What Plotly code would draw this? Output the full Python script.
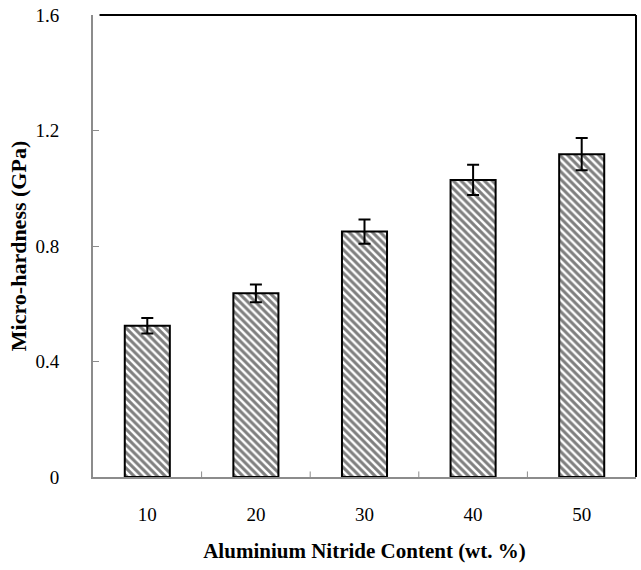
import plotly.graph_objects as go

categories = ["10", "20", "30", "40", "50"]
hardness = [0.524, 0.636, 0.850, 1.029, 1.118]
errors = [0.027, 0.031, 0.042, 0.052, 0.056]
y_ticks = [0, 0.4, 0.8, 1.2, 1.6]
y_tick_labels = ["0", "0.4", "0.8", "1.2", "1.6"]

font_family = "Liberation Serif, Times New Roman, serif"

fig = go.Figure(
    go.Bar(
        x=categories,
        y=hardness,
        error_y=dict(type="data", array=errors, color="black", thickness=2, width=6),
        marker=dict(
            color="white",
            line=dict(color="black", width=2),
            pattern=dict(shape="\\", fgcolor="black", bgcolor="white", size=5.5, solidity=0.55),
        ),
    )
)

fig.update_layout(
    width=641,
    height=570,
    margin=dict(l=93, r=5, t=15, b=93, autoexpand=False),
    paper_bgcolor="white",
    plot_bgcolor="white",
    bargap=0.585,
    showlegend=False,
    font=dict(family=font_family, size=20, color="black"),
    xaxis=dict(
        showline=True,
        linecolor="#8c8c8c",
        linewidth=2,
        ticks="",
        showgrid=False,
        ticklabelstandoff=19,
        tickfont=dict(size=19),
        title=dict(text="<b>Aluminium Nitride Content (wt. %)</b>", standoff=20,
                   font=dict(size=21)),
    ),
    yaxis=dict(
        range=[0, 1.6],
        tickvals=y_ticks,
        ticktext=y_tick_labels,
        showline=True,
        linecolor="#8c8c8c",
        linewidth=2,
        ticks="inside",
        ticklen=6,
        tickcolor="#8c8c8c",
        tickwidth=1,
        showgrid=False,
        zeroline=False,
        ticklabelstandoff=28,
        tickfont=dict(size=19),
        title=dict(text="<b>Micro-hardness (GPa)</b>", standoff=3, font=dict(size=22)),
    ),
    shapes=[
        dict(type="line", xref="paper", yref="paper", x0=0.012, x1=1, y0=1, y1=1,
             line=dict(color="black", width=2)),
        dict(type="line", xref="paper", yref="paper", x0=1, x1=1, y0=0, y1=1,
             line=dict(color="black", width=2)),
    ],
)

# x-axis inside tick marks at category boundaries
for b in [0.5, 1.5, 2.5, 3.5]:
    fig.add_shape(type="line", xref="x", yref="paper", x0=b, x1=b, y0=0, y1=0.012,
                  line=dict(color="#8c8c8c", width=1))

fig.write_html("out.html", config={"displayModeBar": False},
               post_script="document.body.style.margin='0';")
